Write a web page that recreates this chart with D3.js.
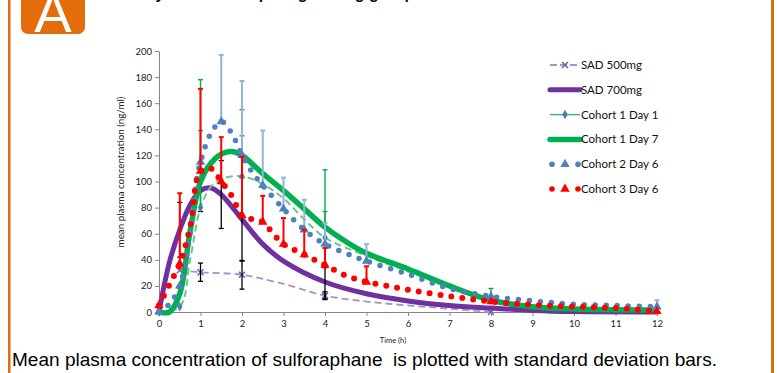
<!DOCTYPE html>
<html>
<head>
<meta charset="utf-8">
<script src="https://cdn.jsdelivr.net/npm/d3@7"></script>
<style>
  body { margin: 0; background: #fff; }
  svg { display: block; font-family: Lato, "Liberation Sans", sans-serif; }
</style>
</head>
<body>
<svg id="chart" width="777" height="373"></svg>
<script>
// ---- data ----
const xTicks = d3.range(0, 13, 1);
const yTicks = d3.range(0, 201, 20);

const seriesNames = ['SAD 500mg', 'SAD 700mg', 'Cohort 1 Day 1', 'Cohort 1 Day 7', 'Cohort 2 Day 6', 'Cohort 3 Day 6'];

const sad500T = [0.5, 1, 2, 3, 4, 5, 6, 7, 8];
const sad500Y = [32, 30.5, 28.5, 21.5, 12.5, 8, 5, 2.5, 0];
const sad500MarkT = [0.5, 1, 2, 4, 8];
const sad500MarkY = [32, 30.5, 28.5, 12.5, 0];
const sad500BarT = [1, 2, 4];
const sad500BarY = [30.5, 28.5, 12.5];
const sad500BarSd = [7, 11, 3];

const sad700T = [0, 0.25, 0.5, 0.75, 1, 1.25, 1.5, 2, 2.5, 3, 4, 5, 6, 7, 8, 9, 10, 12];
const sad700Y = [0, 38, 63, 82, 93, 95, 90, 71, 52, 39, 23, 14, 8.5, 5, 3, 1.2, 0.3, 0];
const sad700BarT = [0.5, 1, 1.5, 2, 4];
const sad700BarY = [63, 93, 90, 71, 22];
const sad700BarSd = [21, 16, 26, 32, 12];

const c1d1T = [0, 0.5, 0.75, 1, 1.25, 1.5, 2, 2.5, 3, 3.5, 4, 5, 6, 7, 8, 9, 10, 12];
const c1d1Y = [0, 4, 40, 80, 96, 102, 104, 98, 87, 71, 57, 43, 31, 19, 9, 4, 2, 1];
const c1d1MarkT = [0, 0.5, 1, 2, 4, 8];
const c1d1MarkY = [0, 4, 80, 104, 57, 9];
const c1d1BarT = [1, 2, 4, 8];
const c1d1BarY = [80, 104, 57, 9];
const c1d1BarSd = [98, 51, 52, 9];

const c1d7T = [0, 0.25, 0.5, 0.75, 1, 1.25, 1.5, 1.75, 2, 2.5, 3, 3.5, 4, 4.5, 5, 6, 7, 8, 9, 10, 12];
const c1d7Y = [0, 0, 14, 62, 100, 114, 121, 123, 120, 106, 93, 79, 65, 54, 45, 33, 20, 9, 4, 2.3, 1.5];
const c1d7BarT = [1, 2, 4];
const c1d7BarY = [100, 120, 65];
const c1d7BarSd = [39, 15, 12];

const c2T = [0, 0.25, 0.5, 0.75, 0.9, 1, 1.25, 1.5, 1.75, 2, 2.25, 2.5, 3, 3.5, 4, 4.5, 5, 6, 7, 8, 9, 10, 11, 12];
const c2Y = [0, 6, 20, 60, 100, 115, 137, 146, 137, 120, 107, 97, 79, 63, 52, 45, 39, 29, 18, 12, 8.5, 6, 5, 4];
const c2MarkT = [0, 0.5, 1, 1.5, 2, 2.5, 3, 3.5, 4, 5, 8, 12];
const c2MarkY = [0, 20, 115, 146, 120, 97, 79, 63, 52, 39, 12, 4];
const c2BarT = [1.5, 2, 2.5, 3, 3.5, 4, 5, 12];
const c2BarY = [146, 120, 97, 79, 63, 52, 39, 4];
const c2BarSd = [51, 57, 42, 24, 23, 16, 13, 5];

const c3T = [0, 0.25, 0.5, 0.75, 1, 1.25, 1.5, 1.75, 2, 2.25, 2.5, 2.75, 3, 3.5, 4, 4.5, 5, 5.5, 6, 7, 8, 9, 10, 11, 12];
const c3Y = [5, 21, 37, 65, 108, 110, 100, 89, 74, 71, 69, 60, 52, 44, 36, 28, 23, 20, 17, 12, 8, 5.5, 4, 3, 0.5];
const c3MarkT = [0, 0.5, 1, 1.5, 2, 2.5, 3, 3.5, 4, 5, 8, 12];
const c3MarkY = [5, 37, 108, 100, 74, 69, 52, 44, 36, 23, 8, 0.5];
const c3BarT = [0.5, 1, 1.5, 2, 2.5, 3, 3.5, 4, 5];
const c3BarY = [37, 108, 100, 74, 69, 52, 44, 36, 23];
const c3BarSd = [54, 63, 34, 45, 20, 20, 19, 13, 12];

const orange = '#e46c0a';

// ---- setup ----
const svg = d3.select('#chart');
const x = d3.scaleLinear().domain([0, 12]).range([159, 657]);
const y = d3.scaleLinear().domain([0, 200]).range([312, 51]);

const zip = (ts, ys) => ts.map((t, i) => [t, ys[i]]);
const line = d3.line()
  .x(d => x(d[0]))
  .y(d => y(d[1]))
  .curve(d3.curveCatmullRom.alpha(0.5));

// frame + badge
svg.append('rect').attr('x', 8).attr('y', 0).attr('width', 2.5).attr('height', 373).attr('fill', orange);
svg.append('rect').attr('x', 771).attr('y', 0).attr('width', 3).attr('height', 373).attr('fill', orange);
svg.append('rect').attr('x', 21).attr('y', -12).attr('width', 64).attr('height', 46).attr('rx', 7).attr('fill', orange);
svg.append('text')
  .attr('x', 53).attr('y', 32)
  .attr('text-anchor', 'middle')
  .attr('font-family', '"Liberation Sans", Arial, sans-serif')
  .attr('font-size', 56)
  .attr('fill', '#fff')
  .text('A');

// title, cut off by the top edge (only descenders show)
svg.append('text')
  .attr('x', 120).attr('y', -1.5)
  .attr('font-family', '"Liberation Sans", Arial, sans-serif')
  .attr('font-size', 16)
  .attr('font-weight', 'bold')
  .attr('fill', '#111')
  .text('Study results comparing dosing groups');

// axes
const yAxis = svg.append('g')
  .attr('transform', 'translate(' + x(0) + ',0)')
  .call(d3.axisLeft(y).tickValues(yTicks).tickSize(4).tickSizeOuter(0).tickPadding(3));
const xAxis = svg.append('g')
  .attr('transform', 'translate(0,' + y(0) + ')')
  .call(d3.axisBottom(x).tickValues(xTicks).tickSize(4).tickSizeOuter(0).tickPadding(4).tickFormat(d3.format('d')));

[yAxis, xAxis].forEach(g => {
  g.selectAll('path.domain').attr('stroke', '#868686');
  g.selectAll('.tick line').attr('stroke', '#868686');
  g.selectAll('.tick text').attr('font-size', 9.5).attr('fill', '#222').attr('font-family', 'Lato, "Liberation Sans", sans-serif');
});

svg.append('text')
  .attr('transform', 'translate(124,172) rotate(-90)')
  .attr('text-anchor', 'middle')
  .attr('font-size', 9.8)
  .attr('fill', '#222')
  .text('mean plasma concentration (ng/ml)');

svg.append('text')
  .attr('x', 393).attr('y', 343)
  .attr('text-anchor', 'middle')
  .attr('font-size', 7.5)
  .attr('fill', '#222')
  .text('Time (h)');

// ---- helpers ----
function errorBars(ts, ys, sds, color, both, w) {
  const g = svg.append('g').attr('stroke', color).attr('stroke-width', w).attr('fill', 'none');
  ts.forEach((t, i) => {
    const top = ys[i] + sds[i];
    const bot = both ? ys[i] - sds[i] : ys[i];
    g.append('line').attr('x1', x(t)).attr('x2', x(t)).attr('y1', y(top)).attr('y2', y(Math.max(bot, 0)));
    g.append('line').attr('x1', x(t) - 2.5).attr('x2', x(t) + 2.5).attr('y1', y(top)).attr('y2', y(top));
    if (both) g.append('line').attr('x1', x(t) - 2.5).attr('x2', x(t) + 2.5).attr('y1', y(bot)).attr('y2', y(bot));
  });
}

const tri = d3.symbol(d3.symbolTriangle, 38)();
const dia = d3.symbol(d3.symbolDiamond, 26)();
const cross = 'M-3,-3L3,3M-3,3L3,-3';

function markers(ts, ys, path, fill, stroke) {
  svg.append('g').selectAll('path')
    .data(zip(ts, ys))
    .join('path')
    .attr('transform', d => 'translate(' + x(d[0]) + ',' + y(d[1]) + ')')
    .attr('d', path)
    .attr('fill', fill)
    .attr('stroke', stroke || 'none')
    .attr('stroke-width', 1.6);
}

// ---- series ----
// SAD 500mg
svg.append('path').attr('d', line(zip(sad500T, sad500Y)))
  .attr('fill', 'none').attr('stroke', '#a394cc').attr('stroke-width', 1.8).attr('stroke-dasharray', '7,4');
markers(sad500MarkT, sad500MarkY, cross, 'none', '#7d62ab');
errorBars(sad500BarT, sad500BarY, sad500BarSd, '#000', true, 1.3);

// SAD 700mg
svg.append('path').attr('d', line(zip(sad700T, sad700Y)))
  .attr('fill', 'none').attr('stroke', '#7030a0').attr('stroke-width', 5);
errorBars(sad700BarT, sad700BarY, sad700BarSd, '#000', true, 1.3);

// Cohort 1 Day 1
svg.append('path').attr('d', line(zip(c1d1T, c1d1Y)))
  .attr('fill', 'none').attr('stroke', '#72c48e').attr('stroke-width', 2).attr('stroke-dasharray', '7,4');
markers(c1d1MarkT, c1d1MarkY, dia, '#4a7ebb');
errorBars(c1d1BarT, c1d1BarY, c1d1BarSd, '#00b050', false, 1.4);

// Cohort 1 Day 7
svg.append('path').attr('d', line(zip(c1d7T, c1d7Y)))
  .attr('fill', 'none').attr('stroke', '#00b050').attr('stroke-width', 5.5);
errorBars(c1d7BarT, c1d7BarY, c1d7BarSd, '#00b050', false, 1.4);

// Cohort 2 Day 6
errorBars(c2BarT, c2BarY, c2BarSd, '#95b3d7', false, 2);
svg.append('path').attr('d', line(zip(c2T, c2Y)))
  .attr('fill', 'none').attr('stroke', '#4f81bd').attr('stroke-width', 5.5)
  .attr('stroke-linecap', 'round').attr('stroke-dasharray', '0,11');
markers(c2MarkT, c2MarkY, tri, '#4f81bd');

// Cohort 3 Day 6
errorBars(c3BarT, c3BarY, c3BarSd, '#ff0000', false, 2);
svg.append('path').attr('d', line(zip(c3T, c3Y)))
  .attr('fill', 'none').attr('stroke', '#ff0000').attr('stroke-width', 6)
  .attr('stroke-linecap', 'round').attr('stroke-dasharray', '0,11');
markers(c3MarkT, c3MarkY, tri, '#ff0000');

// ---- legend ----
const legendY = d3.scaleLinear().domain([0, 5]).range([65, 189]);
const lx0 = 550, lx1 = 580, lxm = 565;
const leg = svg.append('g');
seriesNames.forEach((name, i) => {
  const ly = legendY(i);
  const row = leg.append('g');
  if (i === 0) {
    row.append('line').attr('x1', lx0).attr('x2', lx1).attr('y1', ly).attr('y2', ly)
      .attr('stroke', '#a394cc').attr('stroke-width', 1.8).attr('stroke-dasharray', '7,3');
    row.append('path').attr('transform', 'translate(' + lxm + ',' + ly + ')').attr('d', cross)
      .attr('fill', 'none').attr('stroke', '#7d62ab').attr('stroke-width', 1.6);
  } else if (i === 1) {
    row.append('line').attr('x1', lx0).attr('x2', lx1).attr('y1', ly).attr('y2', ly)
      .attr('stroke', '#7030a0').attr('stroke-width', 5).attr('stroke-linecap', 'round');
  } else if (i === 2) {
    row.append('line').attr('x1', lx0).attr('x2', lx1).attr('y1', ly).attr('y2', ly)
      .attr('stroke', '#3fb873').attr('stroke-width', 1.5);
    row.append('path').attr('transform', 'translate(' + lxm + ',' + ly + ')').attr('d', dia).attr('fill', '#4a7ebb');
  } else if (i === 3) {
    row.append('line').attr('x1', lx0).attr('x2', lx1).attr('y1', ly).attr('y2', ly)
      .attr('stroke', '#00b050').attr('stroke-width', 5.5).attr('stroke-linecap', 'round');
  } else {
    const col = i === 4 ? '#4f81bd' : '#ff0000';
    [lx0 + 2, lx1 - 2].forEach(px => {
      row.append('circle').attr('cx', px).attr('cy', ly).attr('r', 2.8).attr('fill', col);
    });
    row.append('path').attr('transform', 'translate(' + lxm + ',' + ly + ')').attr('d', tri).attr('fill', col);
  }
  row.append('text')
    .attr('x', lx1 + 1).attr('y', ly + 4)
    .attr('font-size', 11.5)
    .attr('fill', '#111')
    .text(name);
});

// caption
svg.append('text')
  .attr('x', 12).attr('y', 366)
  .attr('font-family', '"Liberation Sans", Arial, sans-serif')
  .attr('font-size', 18.5)
  .attr('fill', '#000')
  .attr('textLength', 705)
  .attr('lengthAdjust', 'spacingAndGlyphs')
  .style('white-space', 'pre')
  .text('Mean plasma concentration of sulforaphane  is plotted with standard deviation bars.');
</script>
</body>
</html>
